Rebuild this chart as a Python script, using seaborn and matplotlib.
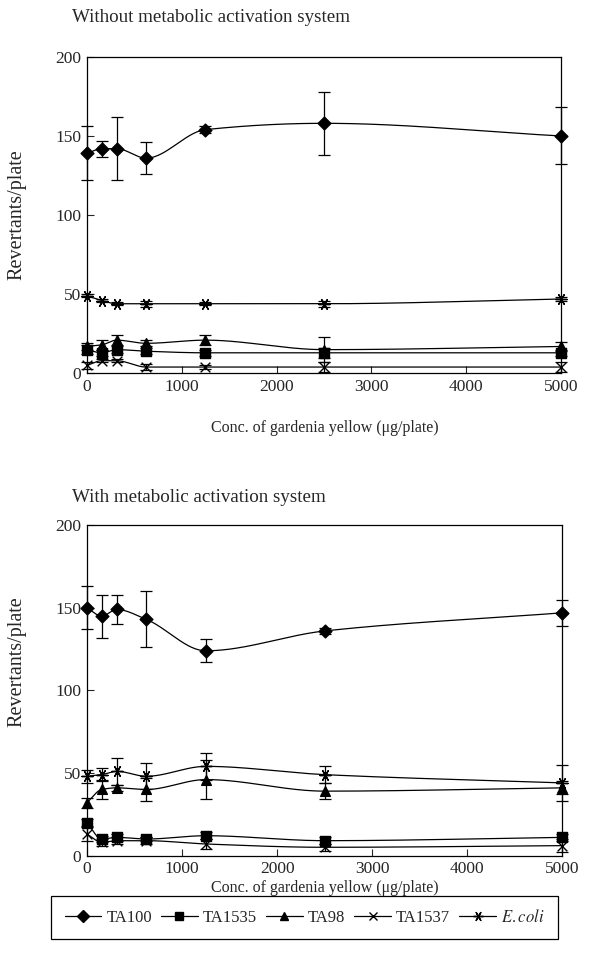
import numpy as np
import seaborn as sns
import matplotlib.pyplot as plt
from matplotlib.lines import Line2D

# concentrations (ug/plate)
conc = [0, 156, 313, 625, 1250, 2500, 5000]
strains = ["TA100", "TA1535", "TA98", "TA1537", "E.coli"]

# without S9
no_s9 = {
    "TA100": [139, 142, 142, 136, 154, 158, 150],
    "TA1535": [15, 13, 15, 14, 13, 13, 13],
    "TA98": [17, 18, 21, 19, 21, 15, 17],
    "TA1537": [5, 8, 8, 4, 4, 4, 4],
    "E.coli": [49, 46, 44, 44, 44, 44, 47],
}
no_s9_err = {
    "TA100": [17, 5, 20, 10, 2, 20, 18],
    "TA1535": [3, 2, 2, 2, 2, 3, 2],
    "TA98": [2, 3, 3, 2, 3, 8, 3],
    "TA1537": [2, 1, 1, 2, 1, 3, 3],
    "E.coli": [1, 1, 1, 2, 1, 2, 1],
}

# with S9
s9 = {
    "TA100": [150, 145, 149, 143, 124, 136, 147],
    "TA1535": [20, 10, 11, 10, 12, 9, 11],
    "TA98": [32, 40, 41, 40, 46, 39, 41],
    "TA1537": [13, 8, 9, 9, 7, 5, 6],
    "E.coli": [48, 49, 51, 48, 54, 49, 44],
}
s9_err = {
    "TA100": [13, 13, 9, 17, 7, 2, 8],
    "TA1535": [2, 2, 2, 1, 2, 2, 2],
    "TA98": [3, 6, 2, 7, 12, 5, 4],
    "TA1537": [4, 2, 2, 2, 3, 2, 4],
    "E.coli": [4, 4, 8, 8, 8, 5, 11],
}

markers = {"TA100": "D", "TA1535": "s", "TA98": "^", "TA1537": "x", "E.coli": (6, 2, 90)}
msize = {"TA100": 6.5, "TA1535": 6.5, "TA98": 7, "TA1537": 7, "E.coli": 8}


def pchip(x, y, xs):
    # monotone cubic, only used to draw a smooth line through the points
    x = np.asarray(x, float)
    y = np.asarray(y, float)
    h = np.diff(x)
    d = np.diff(y) / h
    m = np.zeros_like(y)
    for k in range(1, len(x) - 1):
        if d[k - 1] * d[k] > 0:
            w1 = 2 * h[k] + h[k - 1]
            w2 = h[k] + 2 * h[k - 1]
            m[k] = (w1 + w2) / (w1 / d[k - 1] + w2 / d[k])
    m[0] = d[0]
    m[-1] = d[-1]
    i = np.clip(np.searchsorted(x, xs) - 1, 0, len(x) - 2)
    t = (xs - x[i]) / h[i]
    h00 = 2 * t**3 - 3 * t**2 + 1
    h10 = t**3 - 2 * t**2 + t
    h01 = -2 * t**3 + 3 * t**2
    h11 = t**3 - t**2
    return h00 * y[i] + h10 * h[i] * m[i] + h01 * y[i + 1] + h11 * h[i] * m[i + 1]


sns.set_style("white")
plt.rcParams["font.family"] = ["Liberation Serif", "DejaVu Serif"]
plt.rcParams["mathtext.fontset"] = "stix"

W, H = 612, 980
fig = plt.figure(figsize=(6.12, 9.8), dpi=100)
ax1 = fig.add_axes([0.142, 0.619, 0.775, 0.323])
ax2 = fig.add_axes([0.142, 0.127, 0.777, 0.337])

xs = np.linspace(0, 5000, 600)
panels = [
    (ax1, no_s9, no_s9_err, "Without metabolic activation system", 18, 428, 215),
    (ax2, s9, s9_err, "With metabolic activation system", 497, 888, 662),
]
for ax, data, err, title, ty, xly, yly in panels:
    for s in strains:
        ax.plot(xs, pchip(conc, data[s], xs), color="black", lw=0.9)
        ax.errorbar(conc, data[s], yerr=err[s], fmt="none", ecolor="black",
                    elinewidth=0.9, capsize=4, capthick=0.9, clip_on=False)
        sns.scatterplot(x=conc, y=data[s], marker=markers[s], color="black",
                        s=msize[s] ** 2, edgecolor="black", linewidth=1.0,
                        ax=ax, clip_on=False, zorder=5, legend=False)
    ax.set_xlim(0, 5000)
    ax.set_ylim(0, 200)
    ax.set_xticks([0, 1000, 2000, 3000, 4000, 5000])
    ax.set_yticks([0, 50, 100, 150, 200])
    ax.tick_params(direction="in", length=5, width=0.8, labelsize=12.5,
                   left=True, bottom=True, pad=4)
    for sp in ax.spines.values():
        sp.set_color("black")
        sp.set_linewidth(0.9)
    fig.text(72 / W, 1 - ty / H, title, fontsize=13.7, ha="left", va="center")
    fig.text(325 / W, 1 - xly / H, "Conc. of gardenia yellow (μg/plate)",
             fontsize=11.5, ha="center", va="center")
    fig.text(17 / W, 1 - yly / H, "Revertants/plate", fontsize=14.5,
             rotation=90, ha="center", va="center")

handles = [
    Line2D([], [], color="black", lw=0.9, marker=markers[s], markersize=msize[s] * 0.9,
           markeredgecolor="black", markerfacecolor="black")
    for s in strains
]
labels = ["TA100", "TA1535", "TA98", "TA1537", "$\\it{E.coli}$"]
leg = fig.legend(handles, labels, loc="center", ncol=5, mode="expand",
                 bbox_to_anchor=(43 / W, 1 - 938 / H, 523 / W, 41 / H),
                 frameon=True, fancybox=False, edgecolor="black", fontsize=12,
                 handlelength=2.2, handletextpad=0.3, columnspacing=1.0,
                 borderpad=0.8, framealpha=1)
leg.get_frame().set_linewidth(0.9)

fig.savefig("out.png", dpi=100)
